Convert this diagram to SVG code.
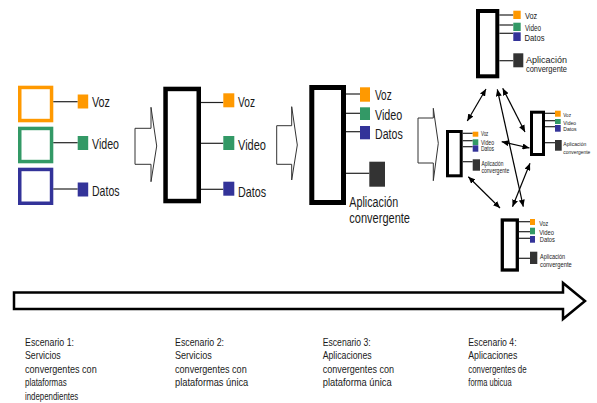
<svg xmlns="http://www.w3.org/2000/svg" width="597" height="403" viewBox="0 0 597 403">
<defs>
<style>
text{font-family:"Liberation Sans",Arial,sans-serif;fill:#1a1a1a}
.l15{font-size:15px}.l14{font-size:14px}.l9{font-size:9px}.l6{font-size:6.5px}.l6r{font-size:5.8px}.l7{font-size:7px}.cap{font-size:10.5px}
.bx{fill:#fff;stroke:#000}
.ln{stroke:#222;stroke-width:1.2}
.o{fill:#FF9900}.g{fill:#339966}.b{fill:#333399}.d{fill:#333}
.blk{fill:#fff;stroke:#333;stroke-width:1}
.con{stroke:#000;stroke-width:1.2;fill:none;marker-start:url(#ah);marker-end:url(#ah)}
</style>
<marker id="ah" markerUnits="userSpaceOnUse" markerWidth="7" markerHeight="6" refX="7" refY="3" orient="auto-start-reverse"><path d="M0,0 L7,3 L0,6 z" fill="#000"/></marker>
</defs>
<rect width="597" height="403" fill="#fff"/>

<g id="s1-voz">
<rect x="19.75" y="87.45" width="31.8" height="33.1" fill="#fff" stroke="#FF9900" stroke-width="3.5"/>
<line class="ln" x1="53.3" y1="101.7" x2="77.7" y2="101.7"/>
<rect class="o" x="77.7" y="94.5" width="10.5" height="14"/>
<text class="l15" x="92" y="107" textLength="18" lengthAdjust="spacingAndGlyphs">Voz</text>
</g>
<g id="s1-video">
<rect x="19.75" y="128.45" width="31.8" height="33.1" fill="#fff" stroke="#339966" stroke-width="3.5"/>
<line class="ln" x1="53.3" y1="142.7" x2="77.7" y2="142.7"/>
<rect class="g" x="77.7" y="136" width="10.5" height="14"/>
<text class="l15" x="92" y="148.5" textLength="27" lengthAdjust="spacingAndGlyphs">Video</text>
</g>
<g id="s1-datos">
<rect x="19.75" y="169.45" width="31.8" height="33.8" fill="#fff" stroke="#333399" stroke-width="3.5"/>
<line class="ln" x1="53.3" y1="189" x2="77.7" y2="189"/>
<rect class="b" x="77.7" y="182.5" width="10.5" height="14"/>
<text class="l15" x="92" y="196" textLength="27.5" lengthAdjust="spacingAndGlyphs">Datos</text>
</g>

<g id="s2">
<rect class="bx" x="165.55" y="88.95" width="33.2" height="112.1" stroke-width="4.5"/>
<line class="ln" x1="201" y1="102.5" x2="223.3" y2="102.5"/>
<line class="ln" x1="201" y1="143.3" x2="223.3" y2="143.3"/>
<line class="ln" x1="201" y1="189.3" x2="223.3" y2="189.3"/>
<rect class="o" x="223.3" y="93.3" width="11" height="14"/>
<rect class="g" x="223.3" y="136" width="11" height="14"/>
<rect class="b" x="223.3" y="181.7" width="11" height="14"/>
<text class="l15" x="238" y="106.5" textLength="17" lengthAdjust="spacingAndGlyphs">Voz</text>
<text class="l15" x="238" y="150" textLength="28" lengthAdjust="spacingAndGlyphs">Video</text>
<text class="l15" x="238" y="196.5" textLength="28" lengthAdjust="spacingAndGlyphs">Datos</text>
</g>

<g id="s3">
<rect class="bx" x="311.8" y="87.5" width="31.7" height="115" stroke-width="5"/>
<line class="ln" x1="346" y1="94" x2="360" y2="94"/>
<line class="ln" x1="346" y1="113.3" x2="360" y2="113.3"/>
<line class="ln" x1="346" y1="131.7" x2="360" y2="131.7"/>
<line class="ln" x1="346" y1="173.3" x2="369.3" y2="173.3"/>
<rect class="o" x="360" y="87.3" width="10" height="14.4"/>
<rect class="g" x="360" y="107.3" width="10" height="12.7"/>
<rect class="b" x="360" y="126" width="10" height="13.3"/>
<rect class="d" x="369.3" y="161.7" width="15.7" height="25"/>
<text class="l14" x="375" y="100" textLength="16.7" lengthAdjust="spacingAndGlyphs">Voz</text>
<text class="l14" x="375" y="119.5" textLength="27.3" lengthAdjust="spacingAndGlyphs">Video</text>
<text class="l14" x="375" y="139" textLength="27.7" lengthAdjust="spacingAndGlyphs">Datos</text>
<text class="l14" x="349.3" y="206.5" textLength="49" lengthAdjust="spacingAndGlyphs">Aplicación</text>
<text class="l14" x="349.3" y="222.5" textLength="60.7" lengthAdjust="spacingAndGlyphs">convergente</text>
</g>

<g id="s4-top">
<rect class="bx" x="478" y="11" width="19.3" height="65.3" stroke-width="4"/>
<line class="ln" x1="499.3" y1="15" x2="513.3" y2="15"/>
<line class="ln" x1="499.3" y1="25" x2="513.3" y2="25"/>
<line class="ln" x1="499.3" y1="33.3" x2="513.3" y2="33.3"/>
<line class="ln" x1="499.3" y1="60.7" x2="513.3" y2="60.7"/>
<rect class="o" x="513.3" y="10.7" width="7.4" height="8.3"/>
<rect class="g" x="513.3" y="22.7" width="7.4" height="8.3"/>
<rect class="b" x="513.3" y="32.3" width="7.4" height="8.7"/>
<rect class="d" x="513.3" y="53.3" width="10" height="14"/>
<text class="l9" x="525" y="19" textLength="12.3" lengthAdjust="spacingAndGlyphs">Voz</text>
<text class="l9" x="525" y="31" textLength="16" lengthAdjust="spacingAndGlyphs">Video</text>
<text class="l9" x="524.5" y="40.5" textLength="20" lengthAdjust="spacingAndGlyphs">Datos</text>
<text class="l9" x="526" y="63" textLength="41" lengthAdjust="spacingAndGlyphs">Aplicación</text>
<text class="l9" x="526" y="71.7" textLength="41" lengthAdjust="spacingAndGlyphs">convergente</text>
</g>

<g id="s4-left">
<rect class="bx" x="447.5" y="131.5" width="13.7" height="44.3" stroke-width="3"/>
<line class="ln" x1="462.7" y1="133.3" x2="472.7" y2="133.3"/>
<line class="ln" x1="462.7" y1="140.7" x2="472.7" y2="140.7"/>
<line class="ln" x1="462.7" y1="146.7" x2="472.7" y2="146.7"/>
<line class="ln" x1="462.7" y1="161.7" x2="472.7" y2="161.7"/>
<rect class="o" x="472.7" y="131.7" width="5.6" height="5"/>
<rect class="g" x="472.7" y="139.3" width="5.6" height="5.7"/>
<rect class="b" x="472.7" y="145.3" width="5.6" height="6.4"/>
<rect class="d" x="472.7" y="159.3" width="7.3" height="11.4"/>
<text class="l6" x="481" y="136" textLength="7.3" lengthAdjust="spacingAndGlyphs">Voz</text>
<text class="l6" x="481" y="144.5" textLength="13" lengthAdjust="spacingAndGlyphs">Video</text>
<text class="l6" x="481" y="151" textLength="13" lengthAdjust="spacingAndGlyphs">Datos</text>
<text class="l6" x="481.5" y="166" textLength="22" lengthAdjust="spacingAndGlyphs">Aplicación</text>
<text class="l6" x="481.5" y="173.3" textLength="27.7" lengthAdjust="spacingAndGlyphs">convergente</text>
</g>

<g id="s4-right">
<rect class="bx" x="531.5" y="112.2" width="12" height="42.3" stroke-width="3"/>
<line class="ln" x1="545" y1="113.3" x2="555" y2="113.3"/>
<line class="ln" x1="545" y1="120.7" x2="555" y2="120.7"/>
<line class="ln" x1="545" y1="126.7" x2="555" y2="126.7"/>
<line class="ln" x1="545" y1="142.7" x2="555" y2="142.7"/>
<rect class="o" x="555" y="110.7" width="5.7" height="6"/>
<rect class="g" x="555" y="119" width="5.7" height="5"/>
<rect class="b" x="555" y="125" width="5.7" height="6.7"/>
<rect class="d" x="555" y="140" width="6.7" height="10.7"/>
<text class="l6r" x="563.3" y="116.7" textLength="7.7" lengthAdjust="spacingAndGlyphs">Voz</text>
<text class="l6r" x="563.3" y="125" textLength="12.7" lengthAdjust="spacingAndGlyphs">Video</text>
<text class="l6r" x="563.3" y="130.7" textLength="13.3" lengthAdjust="spacingAndGlyphs">Datos</text>
<text class="l6r" x="563.3" y="145.7" textLength="23" lengthAdjust="spacingAndGlyphs">Aplicación</text>
<text class="l6r" x="563.3" y="154" textLength="27" lengthAdjust="spacingAndGlyphs">convergente</text>
</g>

<g id="s4-bottom">
<rect class="bx" x="502.3" y="220" width="15" height="50" stroke-width="3.3"/>
<line class="ln" x1="519" y1="221.7" x2="530" y2="221.7"/>
<line class="ln" x1="519" y1="231.7" x2="530" y2="231.7"/>
<line class="ln" x1="519" y1="238.3" x2="530" y2="238.3"/>
<line class="ln" x1="519" y1="258.3" x2="530" y2="258.3"/>
<rect class="o" x="530" y="219" width="5" height="6"/>
<rect class="g" x="530" y="227.7" width="5" height="6.6"/>
<rect class="b" x="530" y="236" width="5" height="6.7"/>
<rect class="d" x="530" y="251.7" width="7.3" height="12.3"/>
<text class="l7" x="539.3" y="226" textLength="9" lengthAdjust="spacingAndGlyphs">Voz</text>
<text class="l7" x="539.3" y="235" textLength="14.7" lengthAdjust="spacingAndGlyphs">Video</text>
<text class="l7" x="539.8" y="241.7" textLength="15" lengthAdjust="spacingAndGlyphs">Datos</text>
<text class="l7" x="540" y="259" textLength="25" lengthAdjust="spacingAndGlyphs">Aplicación</text>
<text class="l7" x="540" y="267.3" textLength="31.7" lengthAdjust="spacingAndGlyphs">convergente</text>
</g>

<g id="connectors">
<line class="con" x1="486" y1="89" x2="467.3" y2="121"/>
<line class="con" x1="497.3" y1="89.3" x2="523.3" y2="206.7"/>
<line class="con" x1="502.7" y1="88.3" x2="525" y2="132"/>
<line class="con" x1="501.7" y1="141.7" x2="529.5" y2="148"/>
<line class="con" x1="468.3" y1="176.7" x2="500" y2="208"/>
<line class="con" x1="530" y1="163.3" x2="512.5" y2="206.7"/>
</g>

<g id="stage-arrows">
<polygon class="blk" points="135,128.3 151,128.3 151,107.3 156.7,146 151,181.7 151,164.3 135,164.3"/>
<polygon class="blk" points="276.7,125.7 291.7,125.7 291.7,106.7 297.3,145 291.7,180 291.7,164.3 276.7,164.3"/>
<polygon class="blk" points="418,118 433.3,118 433.3,108.3 438.3,143.3 433.3,180.7 433.3,163 418,163"/>
</g>

<g id="timeline">
<polygon points="14,292.5 563,292.5 563,283 585,301 563,319 563,309 14,309" fill="#fff" stroke="#000" stroke-width="2.5" stroke-linejoin="miter"/>
</g>

<g id="captions" class="cap">
<text class="cap" x="25" y="345.5" textLength="49" lengthAdjust="spacingAndGlyphs">Escenario 1:</text>
<text class="cap" x="25" y="359" textLength="35.7" lengthAdjust="spacingAndGlyphs">Servicios</text>
<text class="cap" x="25" y="372.5" textLength="71.7" lengthAdjust="spacingAndGlyphs">convergentes con</text>
<text class="cap" x="25" y="386" textLength="41.7" lengthAdjust="spacingAndGlyphs">plataformas</text>
<text class="cap" x="25" y="399.5" textLength="53.3" lengthAdjust="spacingAndGlyphs">independientes</text>

<text class="cap" x="175" y="345.5" textLength="49" lengthAdjust="spacingAndGlyphs">Escenario 2:</text>
<text class="cap" x="175" y="359" textLength="36.7" lengthAdjust="spacingAndGlyphs">Servicios</text>
<text class="cap" x="175" y="372.5" textLength="71.7" lengthAdjust="spacingAndGlyphs">convergentes con</text>
<text class="cap" x="175" y="386" textLength="73.3" lengthAdjust="spacingAndGlyphs">plataformas única</text>

<text class="cap" x="322.7" y="345.5" textLength="48" lengthAdjust="spacingAndGlyphs">Escenario 3:</text>
<text class="cap" x="322.7" y="359" textLength="49" lengthAdjust="spacingAndGlyphs">Aplicaciones</text>
<text class="cap" x="322.7" y="372.5" textLength="71.3" lengthAdjust="spacingAndGlyphs">convergentes con</text>
<text class="cap" x="322.7" y="386" textLength="69" lengthAdjust="spacingAndGlyphs">plataforma única</text>

<text class="cap" x="468.3" y="345.5" textLength="48.3" lengthAdjust="spacingAndGlyphs">Escenario 4:</text>
<text class="cap" x="468.3" y="359" textLength="49" lengthAdjust="spacingAndGlyphs">Aplicaciones</text>
<text class="cap" x="468.3" y="372.5" textLength="58.3" lengthAdjust="spacingAndGlyphs">convergentes de</text>
<text class="cap" x="468.3" y="386" textLength="43.3" lengthAdjust="spacingAndGlyphs">forma ubicua</text>
</g>
</svg>
